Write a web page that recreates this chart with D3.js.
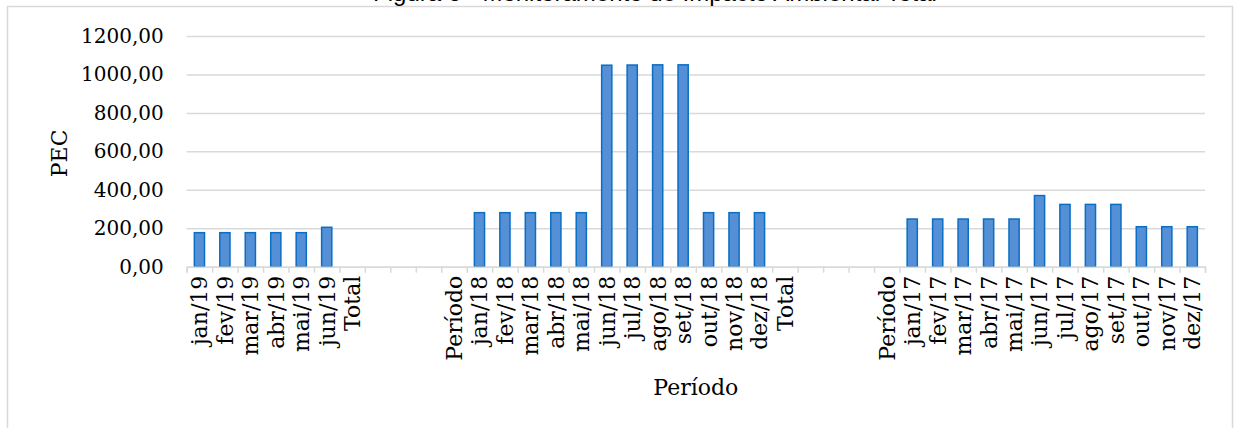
<!DOCTYPE html>
<html>
<head>
<meta charset="utf-8">
<script src="https://cdn.jsdelivr.net/npm/d3@7"></script>
<style>
  html, body { margin: 0; padding: 0; background: #fff; }
  svg { display: block; }
</style>
</head>
<body>
<svg id="chart" width="1234" height="428"></svg>
<script>
// Category labels along the x axis (empty strings are spacer slots)
const categories = [
  "jan/19", "fev/19", "mar/19", "abr/19", "mai/19", "jun/19", "Total",
  "", "", "",
  "Período", "jan/18", "fev/18", "mar/18", "abr/18", "mai/18", "jun/18",
  "jul/18", "ago/18", "set/18", "out/18", "nov/18", "dez/18", "Total",
  "", "", "",
  "Período", "jan/17", "fev/17", "mar/17", "abr/17", "mai/17", "jun/17",
  "jul/17", "ago/17", "set/17", "out/17", "nov/17", "dez/17"
];

// PEC per period (null = no bar)
const pecValues = [
  177, 177, 177, 177, 177, 205, null,
  null, null, null,
  null, 281, 281, 281, 281, 281, 1048,
  1049, 1050, 1050, 281, 281, 281, null,
  null, null, null,
  null, 248, 248, 248, 248, 248, 370,
  324, 324, 324, 208, 208, 208
];

const yTicks = [0, 200, 400, 600, 800, 1000, 1200];

const chartTitle = "Figura 6 - Monitoramento de Impacto Ambiental Total";
const yTitle = "PEC";
const xTitle = "Período";

const svg = d3.select("#chart");
const W = 1234, H = 428;
const plot = { left: 186.7, right: 1205, top: 36, bottom: 266.7 };

// chart frame
svg.append("rect")
  .attr("x", 7.5).attr("y", 6.5)
  .attr("width", 1225).attr("height", 440)
  .attr("fill", "#fff")
  .attr("stroke", "#d9d9d9").attr("stroke-width", 1.5);

// title (sits at the very top edge)
svg.append("text")
  .attr("x", 655).attr("y", 1)
  .attr("text-anchor", "middle")
  .attr("font-family", "Liberation Sans, Arial, sans-serif")
  .attr("font-size", 24)
  .attr("fill", "#000")
  .text(chartTitle);

const idx = d3.range(categories.length);
const x = d3.scaleBand()
  .domain(idx)
  .range([plot.left, plot.right])
  .paddingInner(0.6)
  .paddingOuter(0.3);

const xEdges = d3.scaleLinear()
  .domain([0, categories.length])
  .range([plot.left, plot.right]);

const y = d3.scaleLinear()
  .domain([0, 1200])
  .range([plot.bottom, plot.top]);

const fmt = v => v.toFixed(2).replace(".", ",");

// gridlines + y labels
const yAxis = svg.append("g")
  .attr("transform", `translate(${plot.left},0)`)
  .call(d3.axisLeft(y).tickValues(yTicks).tickSize(-(plot.right - plot.left)).tickPadding(23).tickFormat(fmt));
yAxis.select(".domain").remove();
yAxis.selectAll(".tick line")
  .attr("stroke", "#d9d9d9").attr("stroke-width", 1.5);
yAxis.selectAll(".tick text")
  .attr("font-family", "DejaVu Serif, serif")
  .attr("font-size", 20)
  .attr("fill", "#000");

// bars
svg.append("g").selectAll("rect")
  .data(idx.filter(i => pecValues[i] != null))
  .join("rect")
  .attr("x", i => x(i))
  .attr("y", i => y(pecValues[i]))
  .attr("width", x.bandwidth())
  .attr("height", i => y(0) - y(pecValues[i]))
  .attr("fill", "#5590d6")
  .attr("stroke", "#0a6ec4")
  .attr("stroke-width", 1.5);

// x axis line with boundary ticks
const xAxisLine = svg.append("g")
  .attr("transform", `translate(0,${plot.bottom})`)
  .call(d3.axisBottom(xEdges).tickValues(d3.range(categories.length + 1)).tickSize(6).tickFormat(""));
xAxisLine.selectAll("path, line")
  .attr("stroke", "#d9d9d9").attr("stroke-width", 1.5);

// category labels
const xLabels = svg.append("g")
  .attr("transform", `translate(0,${plot.bottom})`)
  .call(d3.axisBottom(x).tickSize(0).tickFormat(i => categories[i]));
xLabels.select(".domain").remove();
xLabels.selectAll(".tick text")
  .attr("font-family", "DejaVu Serif, serif")
  .attr("font-size", 22)
  .attr("fill", "#000")
  .attr("text-anchor", "end")
  .attr("transform", "rotate(-90)")
  .attr("x", -9)
  .attr("y", 0)
  .attr("dy", "0.36em");

// axis titles
svg.append("text")
  .attr("transform", `translate(67,${(plot.top + plot.bottom) / 2 + 2}) rotate(-90)`)
  .attr("text-anchor", "middle")
  .attr("font-family", "DejaVu Serif, serif")
  .attr("font-size", 22)
  .attr("fill", "#000")
  .text(yTitle);

svg.append("text")
  .attr("x", (plot.left + plot.right) / 2)
  .attr("y", 395)
  .attr("text-anchor", "middle")
  .attr("font-family", "DejaVu Serif, serif")
  .attr("font-size", 22)
  .attr("fill", "#000")
  .text(xTitle);
</script>
</body>
</html>
